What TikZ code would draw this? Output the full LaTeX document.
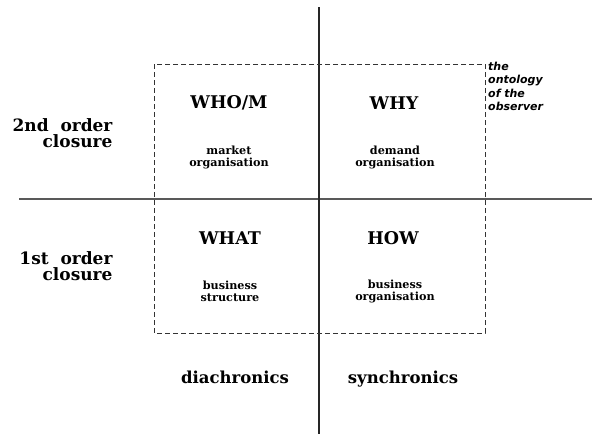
\documentclass[tikz,border=0pt]{standalone}
\usepackage{fontspec}
\setmainfont{DejaVu Serif}
\newfontfamily\obsfont{DejaVu Sans}
\usetikzlibrary{positioning}

\tikzset{
  quad/.style={font=\bfseries\fontsize{17.5}{20}\selectfont},
  role/.style={font=\bfseries\fontsize{11.2}{12}\selectfont, align=center},
  closure/.style={font=\bfseries\fontsize{17}{16.5}\selectfont, align=right, anchor=east},
  chron/.style={font=\bfseries\fontsize{16.5}{20}\selectfont, anchor=base},
}

\begin{document}
\begin{tikzpicture}[x=1pt,y=-1pt]
        \useasboundingbox (0,0) rectangle (592,434);

        % axes
        \coordinate (top) at (319,7);
        \coordinate (bottom) at (319,434);
        \coordinate (left) at (19,198.5);
        \coordinate (right) at (592,198.5);
        \draw[line width=2pt, black!65] (left) -- (right);
        \draw[line width=1.3pt, black!85] (top) -- (bottom);

        % observer frame
        \draw[dash pattern=on 5pt off 3pt, line width=1pt, black!80] (154,64) rectangle (485,333);

        \node[quad] (whom) at (229,103) {WHO/M};
        \node[quad] (why) at (394,103) {WHY};
        \node[quad] (what) at (230,238) {WHAT};
        \node[quad] (how) at (393,238) {HOW};

        \node[role] (market) at (229,157) {market\\organisation};
        \node[role] (demand) at (395,157) {demand\\organisation};
        \node[role] (structure) at (230,291) {business\\structure};
        \node[role] (busorg) at (395,291) {business\\organisation};

        \node[closure] (second) at (116,133) {2nd\ \ order\\closure};
        \node[closure] (first) at (116,266) {1st\ \ order\\closure};

        \node[chron] (dia) at (235,383) {diachronics};
        \node[chron] (syn) at (403,383) {synchronics};

        \node[anchor=north west, align=left, inner sep=0pt, font=\obsfont\bfseries\itshape\fontsize{11}{13.3}\selectfont] (observer) at (488,62) {the\\ontology\\of the\\observer};
\end{tikzpicture}
\end{document}
